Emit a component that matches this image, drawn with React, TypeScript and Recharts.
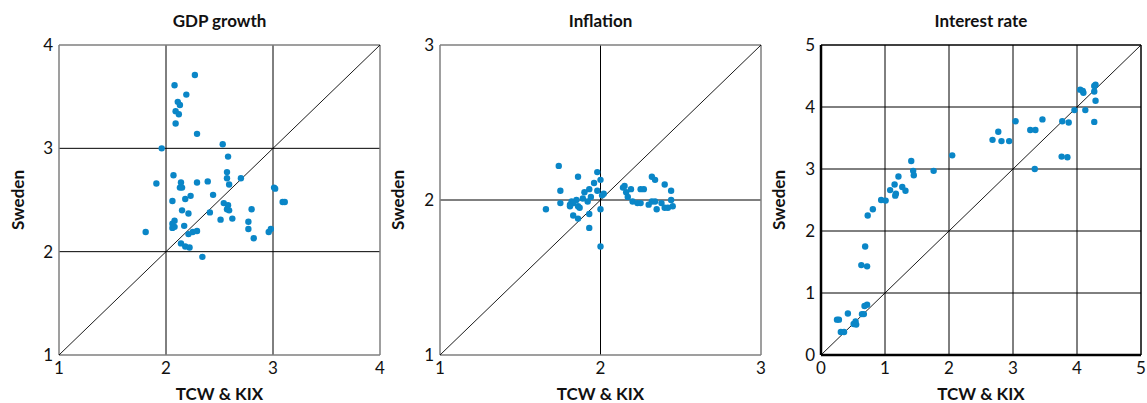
import React from "react";
import {
  ScatterChart,
  Scatter,
  XAxis,
  YAxis,
  CartesianGrid,
  ReferenceLine,
  Label,
} from "recharts";

// GDP growth: TCW & KIX (x) vs Sweden (y)
const gdpX = [
  2.27, 2.08, 2.19, 2.11, 2.13, 2.09, 2.12, 2.09, 2.29, 1.96, 2.53, 2.58, 2.57, 2.57, 2.7,
  2.59, 1.91, 2.07, 2.14, 2.13, 2.15, 2.29, 2.39, 3.01, 3.02, 2.23, 2.44, 2.18, 2.06, 2.54,
  2.58, 2.57, 2.59, 3.09, 3.11, 2.15, 2.21, 2.41, 2.8, 2.51, 2.62, 2.77, 2.77, 2.82, 2.96,
  2.98, 2.08, 2.06, 2.06, 2.08, 2.17, 2.25, 2.29, 2.21, 1.81, 2.14, 2.18, 2.22, 2.34,
];
const gdpY = [
  3.71, 3.61, 3.52, 3.45, 3.42, 3.36, 3.33, 3.24, 3.14, 3.0, 3.04, 2.92, 2.77, 2.71, 2.71,
  2.65, 2.66, 2.74, 2.67, 2.62, 2.62, 2.67, 2.68, 2.62, 2.61, 2.54, 2.55, 2.51, 2.49, 2.47,
  2.45, 2.41, 2.4, 2.48, 2.48, 2.4, 2.37, 2.38, 2.41, 2.31, 2.32, 2.29, 2.22, 2.13, 2.19,
  2.22, 2.3, 2.27, 2.23, 2.24, 2.25, 2.19, 2.2, 2.17, 2.19, 2.08, 2.05, 2.04, 1.95,
];

// Inflation
const inflX = [
  1.74, 1.86, 1.98, 2.0, 1.96, 1.75, 1.93, 1.98, 1.9, 2.02, 2.01, 1.89, 1.94, 1.85, 1.82,
  1.75, 1.92, 1.81, 1.83, 1.86, 1.87, 1.66, 2.0, 1.93, 1.83, 1.86, 1.93, 2.0, 1.81,
  2.32, 2.34, 2.4, 2.44, 2.14, 2.15, 2.19, 2.25, 2.27, 2.16, 2.17, 2.2, 2.23, 2.25, 2.3,
  2.32, 2.34, 2.38, 2.44, 2.4, 2.42, 2.45, 2.35,
];
const inflY = [
  2.22, 2.15, 2.18, 2.13, 2.11, 2.06, 2.07, 2.06, 2.05, 2.04, 2.03, 2.01, 2.02, 2.0, 1.99,
  1.98, 1.99, 1.97, 1.98, 1.96, 1.95, 1.94, 1.94, 1.91, 1.9, 1.88, 1.82, 1.7, 1.96,
  2.15, 2.13, 2.1, 2.06, 2.08, 2.09, 2.07, 2.07, 2.07, 2.05, 2.02, 1.99, 1.98, 1.98, 1.97,
  1.99, 1.99, 1.98, 2.0, 1.95, 1.95, 1.96, 1.94,
];

// Interest rate
const rateX = [
  4.29, 4.27, 4.27, 4.29, 4.27, 4.05, 4.09, 4.1, 3.96, 4.13, 3.77, 3.87, 3.46, 3.04, 3.27,
  3.35, 2.77, 2.68, 2.82, 2.94, 3.76, 3.85, 3.34, 2.05, 1.41, 1.44, 1.45, 1.76, 1.21, 1.15,
  1.27, 1.32, 1.08, 1.17, 1.16, 0.94, 1.01, 0.81, 0.73, 0.69, 0.63, 0.72, 0.72, 0.68, 0.64,
  0.67, 0.42, 0.25, 0.28, 0.51, 0.54, 0.55, 0.31, 0.36,
];
const rateY = [
  4.36, 4.34, 4.25, 4.1, 3.76, 4.28, 4.26, 4.23, 3.95, 3.95, 3.77, 3.75, 3.8, 3.77, 3.63,
  3.63, 3.6, 3.47, 3.45, 3.45, 3.2, 3.19, 3.0, 3.22, 3.13, 2.97, 2.9, 2.97, 2.88, 2.75,
  2.71, 2.65, 2.66, 2.6, 2.57, 2.5, 2.49, 2.35, 2.25, 1.75, 1.45, 1.43, 0.81, 0.79, 0.66,
  0.66, 0.67, 0.57, 0.57, 0.5, 0.54, 0.49, 0.37, 0.37,
];

const gdpTicks = [1, 2, 3, 4];
const inflTicks = [1, 2, 3];
const rateTicks = [0, 1, 2, 3, 4, 5];

const FONT = "Lato, 'Open Sans', sans-serif";
const DOT = "#0a86c7";
const TOP = 45;
const PLOT_H = 310;
const H = 403;

const labelStyle = { fontFamily: FONT, fontWeight: 700, fontSize: 17, fill: "#111" };
const tickStyle = { fontFamily: FONT, fontSize: 17, fill: "#111" };

type PanelProps = {
  title: string;
  xs: number[];
  ys: number[];
  ticks: number[];
  left: number;
  width: number;
  right: number;
  yAxisWidth: number;
  labelX: number;
  frame: string;
  axisStroke: string;
  axisWidth: number;
};

function Dot(p: any) {
  return <circle cx={p.cx} cy={p.cy} r={3.2} fill={DOT} />;
}

function Panel({ title, xs, ys, ticks, left, width, right, yAxisWidth, labelX, frame, axisStroke, axisWidth }: PanelProps) {
  const data = xs.map((x, i) => ({ x, y: ys[i] }));
  const lo = ticks[0];
  const hi = ticks[ticks.length - 1];
  const inner = ticks.slice(1, -1);
  const plotW = width - yAxisWidth - right;
  return (
    <div style={{ position: "absolute", left, top: 0, width, height: H }}>
      <div
        style={{
          position: "absolute",
          left: yAxisWidth,
          width: plotW,
          top: 11,
          textAlign: "center",
          fontFamily: FONT,
          fontWeight: 700,
          fontSize: 17,
          lineHeight: "20px",
          color: "#111",
        }}
      >
        {title}
      </div>
      <ScatterChart width={width} height={H} margin={{ top: TOP, right, bottom: 0, left: 0 }}>
        <CartesianGrid
          stroke="#000"
          strokeWidth={1}
          horizontalValues={inner}
          verticalValues={inner}
        />
        <XAxis
          type="number"
          dataKey="x"
          domain={[lo, hi]}
          ticks={ticks}
          height={H - TOP - PLOT_H}
          axisLine={false}
          tickLine={false}
          tickSize={5}
          tickMargin={2}
          tick={tickStyle}
        >
          <Label value="TCW & KIX" position="insideBottom" offset={3} style={labelStyle} />
        </XAxis>
        <YAxis
          type="number"
          dataKey="y"
          domain={[lo, hi]}
          ticks={ticks}
          width={yAxisWidth}
          axisLine={false}
          tickLine={false}
          tickSize={4}
          tickMargin={2}
          tick={tickStyle}
        >
          <Label
            content={() => (
              <text
                x={labelX}
                y={TOP + PLOT_H / 2}
                transform={`rotate(-90, ${labelX}, ${TOP + PLOT_H / 2})`}
                textAnchor="middle"
                dominantBaseline="central"
                style={labelStyle}
              >
                Sweden
              </text>
            )}
          />
        </YAxis>
        <ReferenceLine y={hi} stroke={frame} strokeWidth={1.5} />
        <ReferenceLine x={hi} stroke={frame} strokeWidth={1.5} />
        <ReferenceLine y={lo} stroke={axisStroke} strokeWidth={axisWidth} />
        <ReferenceLine x={lo} stroke={axisStroke} strokeWidth={axisWidth} />
        <ReferenceLine
          segment={[
            { x: lo, y: lo },
            { x: hi, y: hi },
          ]}
          stroke="#000"
          strokeWidth={0.9}
        />
        <Scatter data={data} fill={DOT} shape={Dot} isAnimationActive={false} />
      </ScatterChart>
    </div>
  );
}

export default function App() {
  return (
    <div style={{ position: "absolute", left: 0, top: 0, width: 1147, height: H, background: "#fff" }}>
      <Panel
        title="GDP growth"
        xs={gdpX}
        ys={gdpY}
        ticks={gdpTicks}
        left={0}
        width={390}
        right={10}
        yAxisWidth={59}
        labelX={17}
        frame="#7f7f7f"
        axisStroke="#7f7f7f"
        axisWidth={1.5}
      />
      <Panel
        title="Inflation"
        xs={inflX}
        ys={inflY}
        ticks={inflTicks}
        left={385}
        width={381}
        right={5}
        yAxisWidth={55}
        labelX={12}
        frame="#7f7f7f"
        axisStroke="#7f7f7f"
        axisWidth={1.5}
      />
      <Panel
        title="Interest rate"
        xs={rateX}
        ys={rateY}
        ticks={rateTicks}
        left={766}
        width={381}
        right={6}
        yAxisWidth={55}
        labelX={12}
        frame="#000"
        axisStroke="#000"
        axisWidth={2.5}
      />
    </div>
  );
}
